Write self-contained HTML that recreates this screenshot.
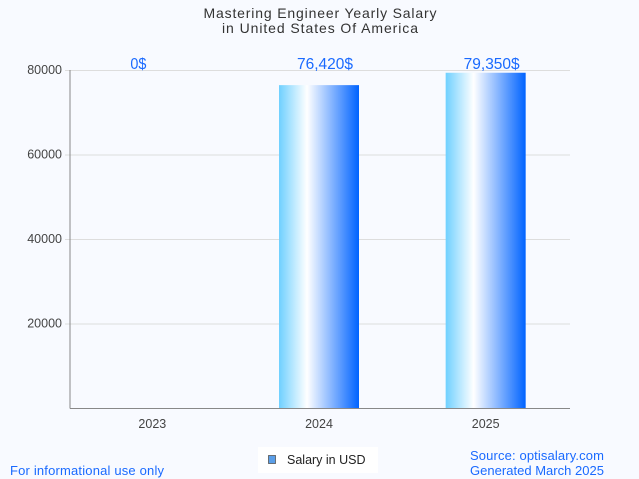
<!DOCTYPE html>
<html><head><meta charset="utf-8"><style>
body{margin:0;background:#f8faff;font-family:"Liberation Sans",sans-serif}
svg{display:block}
</style></head><body>
<svg id="c" width="639" height="479">
<defs><linearGradient id="g" x1="0" x2="1" y1="0" y2="0">
<stop offset="0" stop-color="#6fd0ff"/><stop offset="0.35" stop-color="#ffffff"/><stop offset="1" stop-color="#0063ff"/></linearGradient></defs>
<rect width="639" height="479" fill="#f8faff"/>
<text x="320" y="18" text-anchor="middle" font-size="14" textLength="233" fill="#333">Mastering Engineer Yearly Salary</text>
<text x="320" y="33" text-anchor="middle" font-size="14" textLength="196" fill="#333">in United States Of America</text>
<g id="grid"></g><g id="bars"></g>
<line x1="70" y1="70" x2="70" y2="408.5" stroke="#888"/>
<line x1="70" y1="408.5" x2="570" y2="408.5" stroke="#888"/>
<g>
<rect x="258" y="447" width="120" height="26" fill="#fff"/>
<rect x="268.5" y="455.5" width="7" height="8" fill="#5a9ee8" stroke="#555" stroke-width="0.8"/>
<text x="287" y="464" font-size="12.5" fill="#222">Salary in USD</text></g>
<text x="10" y="475" font-size="13" textLength="154" fill="#1a6aff">For informational use only</text>
<text x="470" y="460" font-size="13" textLength="134" fill="#1a6aff">Source: optisalary.com</text>
<text x="470" y="475" font-size="13" textLength="134" fill="#1a6aff">Generated March 2025</text>
</svg>
<script>
const categories=["2023","2024","2025"];
const salaries=[0,76420,79350];
const labels=["0$","76,420$","79,350$"];
const yTicks=[20000,40000,60000,80000];
const X0=70,X1=570,Y0=408,PX=338/80000;
const y=v=>Y0-v*PX;
const bw=(X1-X0)/categories.length;
const xc=i=>X0+bw*(i+0.5)-1;
const ns="http://www.w3.org/2000/svg";
const grid=document.getElementById('grid'),bars=document.getElementById('bars');
function mk(t,a,p){const e=document.createElementNS(ns,t);for(const k in a)e.setAttribute(k,a[k]);p.appendChild(e);return e;}
yTicks.forEach(t=>{
 const l=mk('line',{x1:X0-5,x2:X1,y1:y(t)+.5,y2:y(t)+.5,stroke:'#ddd'},grid);
 
 
 const tx=mk('text',{x:X0-8,y:y(t)+4,'text-anchor':'end','font-size':12.5,fill:'#444'},grid);
 tx.textContent=t;
 
 
});
categories.forEach((c,i)=>{
 const h=salaries[i]*PX;
 const r=mk('rect',{x:xc(i)-40,y:y(salaries[i]),width:80,height:h,fill:'url(#g)'},bars);
 
 
 const v=mk('text',{x:xc(i)-22,y:69,'font-size':16,fill:'#1a6aff',textLength:labels[i].length*8,lengthAdjust:'spacingAndGlyphs'},bars);
 v.textContent=labels[i];
 
 
 const xt=mk('text',{x:xc(i),y:428,'text-anchor':'middle','font-size':12.5,fill:'#444'},bars);
 xt.textContent=c;
 
 
});
</script>
</body></html>
